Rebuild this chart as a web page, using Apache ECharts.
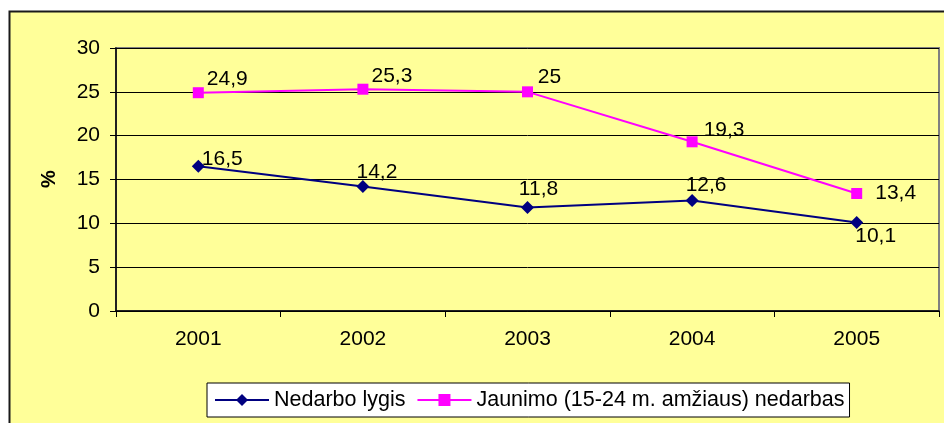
<!DOCTYPE html>
<html>
<head>
<meta charset="utf-8">
<script src="https://cdn.jsdelivr.net/npm/echarts@6/dist/echarts.min.js"></script>
<style>
html,body{margin:0;padding:0;background:#fff;}
#c{width:944px;height:423px;}
</style>
</head>
<body>
<div id="c"></div>
<script>
var categories = ['2001', '2002', '2003', '2004', '2005'];
var nedarboLygis = [16.5, 14.2, 11.8, 12.6, 10.1];
var jaunimoNedarbas = [24.9, 25.3, 25, 19.3, 13.4];
var seriesNames = ['Nedarbo lygis', 'Jaunimo (15-24 m. amžiaus) nedarbas'];
var yTicks = [0, 5, 10, 15, 20, 25, 30];

// label offsets (styling only): [dx, dy] of label centre from the point
var nedarboOffsets = [[24, -7], [14, -14], [11, -18], [14, -15], [19, 14]];
var jaunimoOffsets = [[29, -14], [29, -13], [22, -15], [32, -12], [39, 0]];

function fmt(v) { return String(v).replace('.', ','); }
function build(values, offsets) {
  return values.map(function (v, i) {
    return {
      value: v,
      label: {
        show: true, position: 'inside', align: 'center', verticalAlign: 'middle',
        offset: offsets[i], formatter: function (p) { return fmt(p.value); }
      }
    };
  });
}

var FONT = '"Liberation Sans", Arial, sans-serif';
var chart = echarts.init(document.getElementById('c'));
chart.setOption({
  backgroundColor: '#ffffff',
  animation: false,
  textStyle: { fontFamily: FONT },
  graphic: {
    elements: [
      { type: 'rect', z: -100, silent: true,
        shape: { x: 9.5, y: 11.5, width: 950, height: 430 },
        style: { fill: '#FFFF99', stroke: '#1a1a1a', lineWidth: 2 } },
      { type: 'text', x: 49, y: 179, rotation: Math.PI / 2,
        style: { text: '%', font: 'bold 20px ' + FONT, fill: '#000', align: 'center', verticalAlign: 'middle' } }
    ]
  },
  grid: { left: 116, top: 48, right: 5, bottom: 112, show: true, borderColor: '#808080', borderWidth: 2, backgroundColor: 'transparent' },
  legend: {
    left: 207, top: 383,
    backgroundColor: '#ffffff', borderColor: '#000', borderWidth: 1,
    padding: [6, 5, 6, 7], itemGap: 11, itemWidth: 54, itemHeight: 15,
    textStyle: { fontSize: 21.5, color: '#000', fontFamily: FONT },
    data: seriesNames
  },
  xAxis: {
    type: 'category', data: categories, boundaryGap: true,
    axisLine: { lineStyle: { color: '#000', width: 1.5 } },
    axisTick: { show: true, length: 6, lineStyle: { color: '#000' } },
    axisLabel: { fontSize: 21, color: '#000', margin: 18, fontFamily: FONT }
  },
  yAxis: {
    type: 'value', min: yTicks[0], max: yTicks[yTicks.length - 1], interval: 5,
    axisLine: { show: true, lineStyle: { color: '#000', width: 1.5 } },
    axisTick: { show: true, length: 6, lineStyle: { color: '#000' } },
    splitLine: { show: true, lineStyle: { color: '#000', width: 1 } },
    axisLabel: { fontSize: 21, color: '#000', margin: 16, fontFamily: FONT }
  },
  series: [
    {
      name: seriesNames[0], type: 'line', data: build(nedarboLygis, nedarboOffsets),
      symbol: 'diamond', symbolSize: 13, z: 3,
      lineStyle: { color: '#000080', width: 2 }, itemStyle: { color: '#000080' },
      label: { fontSize: 21, color: '#000', fontFamily: FONT }
    },
    {
      name: seriesNames[1], type: 'line', data: build(jaunimoNedarbas, jaunimoOffsets),
      symbol: 'rect', symbolSize: 11, z: 3,
      lineStyle: { color: '#FF00FF', width: 2 }, itemStyle: { color: '#FF00FF' },
      label: { fontSize: 21, color: '#000', fontFamily: FONT }
    }
  ]
});
</script>
</body>
</html>
